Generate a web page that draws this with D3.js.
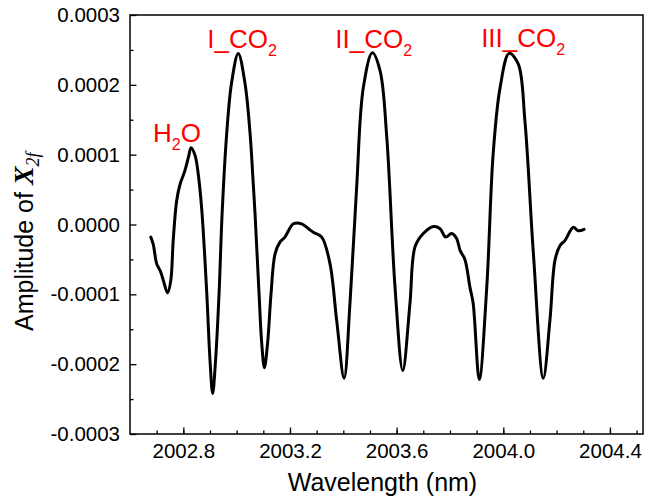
<!DOCTYPE html>
<html>
<head>
<meta charset="utf-8">
<script src="https://cdn.jsdelivr.net/npm/d3@7"></script>
<style>
  html, body { margin: 0; padding: 0; background: #fff; }
  svg { display: block; }
</style>
</head>
<body>
<svg id="chart" width="646" height="501"></svg>
<script>
// ---- data ----
const wavelength = [
  2002.678, 2002.687, 2002.700, 2002.715, 2002.725, 2002.741, 2002.753, 2002.762,
  2002.775, 2002.788, 2002.804, 2002.819, 2002.829, 2002.844, 2002.856, 2002.869,
  2002.888, 2002.900, 2002.910, 2002.921, 2002.934, 2002.946, 2002.963, 2002.981,
  2003.006, 2003.031, 2003.050, 2003.062, 2003.069, 2003.084, 2003.094, 2003.104,
  2003.116, 2003.129, 2003.144, 2003.163, 2003.181, 2003.213, 2003.244, 2003.269,
  2003.287, 2003.319, 2003.350, 2003.375, 2003.403, 2003.425, 2003.450, 2003.475,
  2003.509, 2003.538, 2003.563, 2003.594, 2003.623, 2003.650, 2003.669, 2003.700,
  2003.738, 2003.763, 2003.784, 2003.806, 2003.825, 2003.838, 2003.856, 2003.875,
  2003.887, 2003.910, 2003.938, 2003.962, 2003.988, 2004.022, 2004.056, 2004.081,
  2004.113, 2004.150, 2004.175, 2004.194, 2004.213, 2004.231, 2004.263, 2004.281,
  2004.303
];
const amplitude = [
  -0.000018, -0.000028, -0.000056, -0.000068, -0.000080, -0.000098, -0.000080, -0.000023,
   0.000034,  0.000058,  0.000075,  0.000096,  0.000110,  0.000099,  0.000072,  0.000022,
  -0.000099, -0.000194, -0.000242, -0.000194, -0.000099,  0.000020,  0.000132,  0.000203,
   0.000245,  0.000203,  0.000132,  0.000060,  0.000015, -0.000099, -0.000170, -0.000205,
  -0.000170, -0.000099, -0.000042, -0.000025, -0.000018,  0.000001,  0.000001, -0.000006,
  -0.000011, -0.000018, -0.000056, -0.000137, -0.000220, -0.000113,  0.000053,  0.000196,
   0.000246,  0.000220,  0.000125, -0.000090, -0.000209, -0.000113, -0.000032, -0.000013,
  -0.000003, -0.000006, -0.000018, -0.000013, -0.000020, -0.000037, -0.000050, -0.000090,
  -0.000113, -0.000222, -0.000090,  0.000101,  0.000196,  0.000245,  0.000230,  0.000149,
  -0.000042, -0.000220, -0.000137, -0.000051, -0.000030, -0.000023, -0.000004, -0.000009,
  -0.000007
];
const xTickValues = [2002.8, 2003.2, 2003.6, 2004.0, 2004.4];
const yTickValues = [-0.0003, -0.0002, -0.0001, 0, 0.0001, 0.0002, 0.0003];
const peakLabels = ["H", "I_CO", "II_CO", "III_CO"];
const peakSubs = ["2", "2", "2", "2"];
const peakTails = ["O", "", "", ""];
const peakWave = [2002.829, 2003.006, 2003.509, 2004.022];

// ---- layout ----
const svg = d3.select("#chart");
const margin = { left: 130, right: 3, top: 15, bottom: 67 };
const W = 646, H = 501;
const iw = W - margin.left - margin.right;
const ih = H - margin.top - margin.bottom;

const x = d3.scaleLinear().domain([2002.6, 2004.524]).range([0, iw]);
const y = d3.scaleLinear().domain([-0.0003, 0.0003]).range([ih, 0]);

const g = svg.append("g").attr("transform", `translate(${margin.left},${margin.top})`);

const FONT = "'Liberation Sans', Arial, sans-serif";
const hyphen = f => (d => f(d).replace("\u2212", "-"));

// minor ticks
const xMinor = d3.axisBottom(x).tickValues(d3.range(2002.7, 2004.51, 0.1)).tickSize(-3.5).tickFormat("");
const yMinor = d3.axisLeft(y).tickValues(d3.range(-0.00025, 0.0003, 0.0001)).tickSize(-3.5).tickFormat("");
g.append("g").attr("transform", `translate(0,${ih})`).call(xMinor)
  .call(s => s.select(".domain").remove())
  .call(s => s.selectAll("line").attr("stroke", "#000").attr("stroke-width", 1.3));
g.append("g").call(yMinor)
  .call(s => s.select(".domain").remove())
  .call(s => s.selectAll("line").attr("stroke", "#000").attr("stroke-width", 1.3));

// major axes
const xAxis = d3.axisBottom(x).tickValues(xTickValues).tickSize(-6.5).tickPadding(9)
  .tickFormat(d3.format(".1f"));
const yAxis = d3.axisLeft(y).tickValues(yTickValues).tickSize(-6.5).tickPadding(10)
  .tickFormat(hyphen(d3.format(".4f")));

g.append("g").attr("transform", `translate(0,${ih})`).call(xAxis)
  .call(s => s.select(".domain").remove())
  .call(s => s.selectAll("line").attr("stroke", "#000").attr("stroke-width", 1.3))
  .call(s => s.selectAll("text").attr("fill", "#000").style("font-family", FONT).style("font-size", "20.5px"));
g.append("g").call(yAxis)
  .call(s => s.select(".domain").remove())
  .call(s => s.selectAll("line").attr("stroke", "#000").attr("stroke-width", 1.3))
  .call(s => s.selectAll("text").attr("fill", "#000").style("font-family", FONT).style("font-size", "20.5px"));

// frame
g.append("rect").attr("x", 0).attr("y", 0).attr("width", iw).attr("height", ih)
  .attr("fill", "none").attr("stroke", "#000").attr("stroke-width", 1.5);

// line
const pts = wavelength.map((w, i) => [w, amplitude[i]]);
const line = d3.line().x(d => x(d[0])).y(d => y(d[1])).curve(d3.curveCatmullRom.alpha(0.5));
g.append("path").datum(pts).attr("d", line)
  .attr("fill", "none").attr("stroke", "#000").attr("stroke-width", 3)
  .attr("stroke-linejoin", "round").attr("stroke-linecap", "round");

// peak labels
const labelY = [y(0.000110) - 6, 33, 33, 32];
const labelX = [x(peakWave[0]) - 38, x(peakWave[1]) - 31, x(peakWave[2]) - 37, x(peakWave[3]) - 28];
peakLabels.forEach((lab, i) => {
  const t = g.append("text").attr("x", labelX[i]).attr("y", labelY[i])
    .attr("fill", "#ff0000").style("font-family", FONT).style("font-size", "26px");
  t.append("tspan").text(lab);
  t.append("tspan").attr("dy", 8).style("font-size", "16px").text(peakSubs[i]);
  if (peakTails[i]) t.append("tspan").attr("dy", -8).text(peakTails[i]);
});

// axis titles
svg.append("text").attr("x", margin.left + iw / 2 - 4).attr("y", 491)
  .attr("text-anchor", "middle").attr("fill", "#000")
  .style("font-family", FONT).style("font-size", "25px").text("Wavelength (nm)");

const yt = svg.append("text").attr("transform", "translate(33,331) rotate(-90)")
  .attr("text-anchor", "start").attr("fill", "#000")
  .style("font-family", FONT).style("font-size", "25px");
yt.append("tspan").text("Amplitude of ");
yt.append("tspan").style("font-family", "'Liberation Serif', 'Times New Roman', serif")
  .style("font-weight", "bold").style("font-style", "italic").style("font-size", "28px").text("X");
yt.append("tspan").attr("dy", 6).style("font-family", "'Liberation Serif', 'Times New Roman', serif")
  .style("font-style", "italic").style("font-size", "18px").text("2f");
</script>
</body>
</html>
